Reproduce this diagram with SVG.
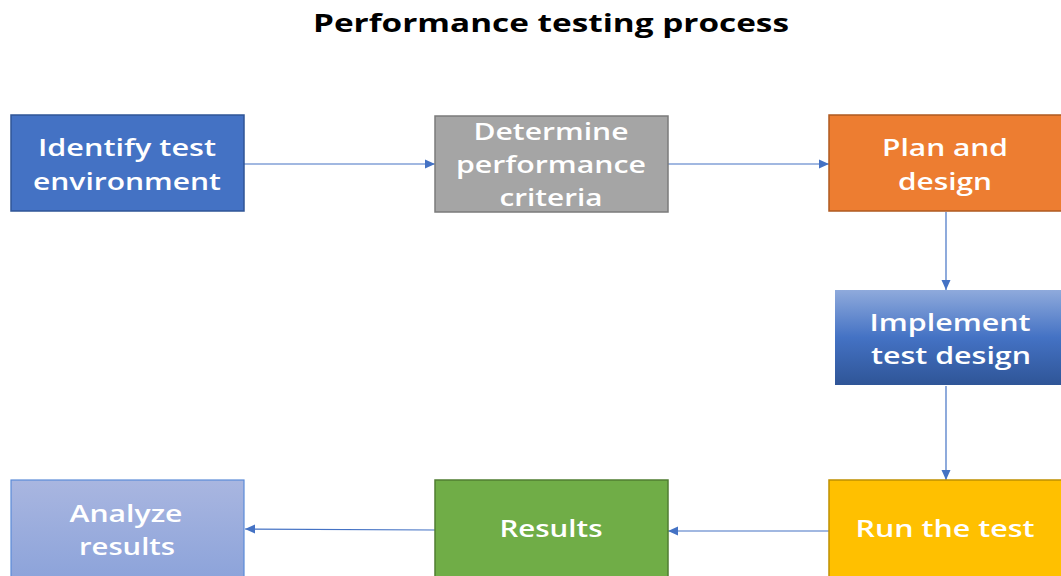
<svg xmlns="http://www.w3.org/2000/svg" width="1061" height="576" viewBox="0 0 1061 576">
  <style>
    .title { font-family: "Open Sans", "Liberation Sans", sans-serif; font-weight: 700; font-size: 25px; fill: #000; text-anchor: middle; }
    .lbl { font-family: "Open Sans", "Liberation Sans", sans-serif; font-weight: 600; font-size: 24px; fill: #ffffff; text-anchor: middle; }
    .conn { stroke: #4472C4; stroke-width: 1.2; fill: none; marker-end: url(#arr); }
  </style>
  <defs>
    <marker id="arr" viewBox="0 0 10 10" refX="10" refY="5" markerWidth="10" markerHeight="10" markerUnits="userSpaceOnUse" orient="auto">
      <path d="M0,0.5 L10,5 L0,9.5 Z" fill="#4472C4"/>
    </marker>
    <linearGradient id="gImpl" x1="0" y1="0" x2="0" y2="1">
      <stop offset="0" stop-color="#8FAADC"/>
      <stop offset="0.5" stop-color="#4472C4"/>
      <stop offset="1" stop-color="#2F5597"/>
    </linearGradient>
    <linearGradient id="gAnal" x1="0" y1="0" x2="0" y2="1">
      <stop offset="0" stop-color="#A9B6E0"/>
      <stop offset="1" stop-color="#8CA3DA"/>
    </linearGradient>
  </defs>
  <rect width="1061" height="576" fill="#ffffff"/>
  <text class="title" x="551" y="32" textLength="476" lengthAdjust="spacingAndGlyphs">Performance testing process</text>

  <g id="connectors">
    <line class="conn" x1="244" y1="164" x2="435" y2="164"/>
    <line class="conn" x1="668" y1="164" x2="829" y2="164"/>
    <line class="conn" x1="946" y1="212" x2="946" y2="290"/>
    <line class="conn" x1="946" y1="386" x2="946" y2="480"/>
    <line class="conn" x1="829" y1="531" x2="668" y2="531"/>
    <line class="conn" x1="435" y1="530" x2="245" y2="529"/>
  </g>

  <g id="identify">
    <rect x="11" y="115" width="233" height="96" fill="#4472C4" stroke="#2F5597" stroke-width="1.5"/>
    <text class="lbl" x="127" y="156" textLength="178" lengthAdjust="spacingAndGlyphs">Identify test</text>
    <text class="lbl" x="127" y="190" textLength="188" lengthAdjust="spacingAndGlyphs">environment</text>
  </g>
  <g id="determine">
    <rect x="435" y="116" width="233" height="96" fill="#A5A5A5" stroke="#7B7B7B" stroke-width="1.5"/>
    <text class="lbl" x="551" y="140" textLength="155" lengthAdjust="spacingAndGlyphs">Determine</text>
    <text class="lbl" x="551" y="173" textLength="190" lengthAdjust="spacingAndGlyphs">performance</text>
    <text class="lbl" x="551" y="206" textLength="103" lengthAdjust="spacingAndGlyphs">criteria</text>
  </g>
  <g id="plan">
    <rect x="829" y="115" width="236" height="96" fill="#ED7D31" stroke="#AE5A21" stroke-width="1.5"/>
    <text class="lbl" x="945" y="156" textLength="126" lengthAdjust="spacingAndGlyphs">Plan and</text>
    <text class="lbl" x="945" y="190" textLength="94" lengthAdjust="spacingAndGlyphs">design</text>
  </g>
  <g id="implement">
    <rect x="835" y="290" width="232" height="95" fill="url(#gImpl)"/>
    <text class="lbl" x="950" y="331" textLength="161" lengthAdjust="spacingAndGlyphs">Implement</text>
    <text class="lbl" x="951" y="364" textLength="160" lengthAdjust="spacingAndGlyphs">test design</text>
  </g>
  <g id="run">
    <rect x="829" y="480" width="236" height="100" fill="#FFC000" stroke="#BF9000" stroke-width="1.5"/>
    <text class="lbl" x="945" y="537" textLength="179" lengthAdjust="spacingAndGlyphs">Run the test</text>
  </g>
  <g id="results">
    <rect x="435" y="480" width="233" height="100" fill="#70AD47" stroke="#507E32" stroke-width="1.5"/>
    <text class="lbl" x="551" y="537" textLength="103" lengthAdjust="spacingAndGlyphs">Results</text>
  </g>
  <g id="analyze">
    <rect x="11" y="480" width="233" height="100" fill="url(#gAnal)" stroke="#5B8BD8" stroke-width="1.2"/>
    <text class="lbl" x="126" y="522" textLength="113" lengthAdjust="spacingAndGlyphs">Analyze</text>
    <text class="lbl" x="127" y="555" textLength="96" lengthAdjust="spacingAndGlyphs">results</text>
  </g>
</svg>
